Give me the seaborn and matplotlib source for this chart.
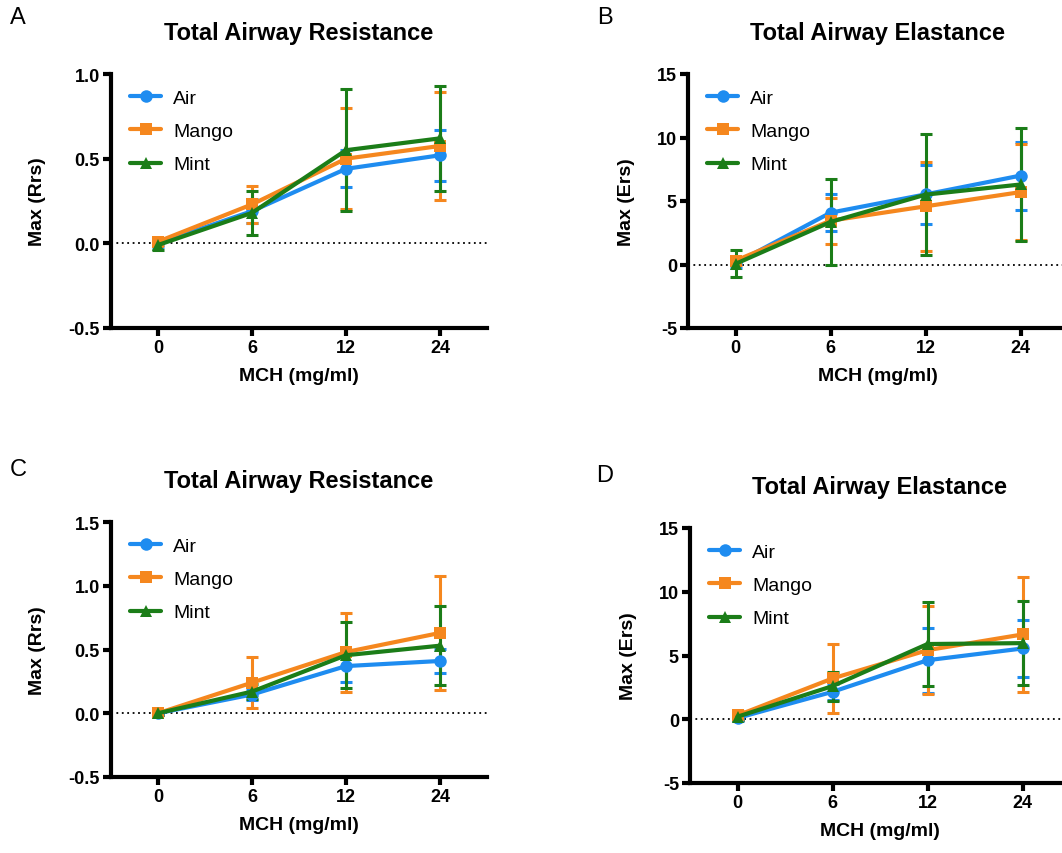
import numpy as np
import pandas as pd
import seaborn as sns
import matplotlib.pyplot as plt

# ----------- data -----------
doses = ["0", "6", "12", "24"]
groups = ["Air", "Mango", "Mint"]

# Panel A: Total Airway Resistance (mean, error)
a_air = [0.00, 0.19, 0.44, 0.52]
a_air_err = [0.02, 0.07, 0.11, 0.15]
a_mango = [0.01, 0.23, 0.50, 0.575]
a_mango_err = [0.02, 0.11, 0.30, 0.32]
a_mint = [-0.01, 0.18, 0.55, 0.62]
a_mint_err = [0.03, 0.13, 0.36, 0.31]

# Panel B: Total Airway Elastance
b_air = [0.1, 4.08, 5.52, 7.0]
b_air_err = [0.37, 1.45, 2.33, 2.67]
b_mango = [0.3, 3.45, 4.58, 5.7]
b_mango_err = [0.3, 1.8, 3.5, 3.8]
b_mint = [0.05, 3.35, 5.5, 6.3]
b_mint_err = [1.06, 3.35, 4.75, 4.45]

# Panel C: Total Airway Resistance
c_air = [0.0, 0.147, 0.37, 0.41]
c_air_err = [0.01, 0.04, 0.125, 0.095]
c_mango = [0.0, 0.24, 0.48, 0.63]
c_mango_err = [0.01, 0.20, 0.31, 0.45]
c_mint = [0.0, 0.17, 0.455, 0.53]
c_mint_err = [0.01, 0.06, 0.26, 0.31]

# Panel D: Total Airway Elastance
d_air = [0.1, 2.15, 4.63, 5.55]
d_air_err = [0.2, 0.63, 2.55, 2.2]
d_mango = [0.3, 3.2, 5.42, 6.65]
d_mango_err = [0.33, 2.7, 3.45, 4.5]
d_mint = [0.2, 2.6, 5.9, 5.97]
d_mint_err = [0.25, 1.14, 3.3, 3.3]

palette = {"Air": "#1E8CF0", "Mango": "#F5871E", "Mint": "#1B7D18"}
markers = {"Air": "o", "Mango": "s", "Mint": "^"}

sns.set_theme(style="ticks", rc={"text.color": "black", "axes.labelcolor": "black",
                                 "xtick.color": "black", "ytick.color": "black",
                                 "axes.edgecolor": "black"})
plt.rcParams["font.family"] = ["Liberation Sans", "DejaVu Sans"]


def make_df(air, mango, mint, air_e, mango_e, mint_e):
    rows = []
    for g, vals, errs in zip(groups, [air, mango, mint], [air_e, mango_e, mint_e]):
        for i, d in enumerate(doses):
            rows.append({"pos": i, "dose": d, "group": g, "value": vals[i], "err": errs[i]})
    return pd.DataFrame(rows)


def draw_panel(ax, df, title, ylabel, ylim, yticks, yfmt):
    sns.lineplot(data=df, x="pos", y="value", hue="group", style="group",
                 palette=palette, markers=markers, dashes=False,
                 linewidth=3, markersize=9, markeredgewidth=0, ax=ax, zorder=3)
    for g in groups:
        sub = df[df["group"] == g]
        ax.errorbar(sub["pos"], sub["value"], yerr=sub["err"], fmt="none",
                    ecolor=palette[g], elinewidth=2.2, capsize=4, capthick=2.2, zorder=2)
    ax.axhline(0, color="black", linestyle=(0, (1, 2)), linewidth=1.3, zorder=1)
    ax.set_xlim(-0.5, 3.5)
    ax.set_ylim(*ylim)
    ax.set_xticks(range(len(doses)))
    ax.set_xticklabels(doses, fontweight="bold", fontsize=13)
    ax.set_yticks(yticks)
    ax.set_yticklabels([yfmt.format(t) for t in yticks], fontweight="bold", fontsize=13)
    ax.set_xlabel("MCH (mg/ml)", fontweight="bold", fontsize=14, labelpad=8)
    ax.set_ylabel(ylabel, fontweight="bold", fontsize=14, labelpad=16)
    ax.set_title(title, fontweight="bold", fontsize=17, pad=25)
    sns.despine(ax=ax)
    for s in ["left", "bottom"]:
        ax.spines[s].set_linewidth(3)
    ax.tick_params(width=3, length=6, pad=2)
    ax.margins(0)
    leg = ax.legend(loc="upper left", frameon=False, fontsize=14,
                    handlelength=1.6, handletextpad=0.6, labelspacing=0.8,
                    borderaxespad=0.2, bbox_to_anchor=(0.02, 0.985))
    for h in leg.legend_handles:
        h.set_linewidth(3)


fig = plt.figure(figsize=(10.62, 8.54), dpi=100)
ax_a = fig.add_axes([111 / 1062, 1 - 329 / 854, 376 / 1062, 254 / 854])
ax_b = fig.add_axes([688 / 1062, 1 - 329 / 854, 380 / 1062, 254 / 854])
ax_c = fig.add_axes([111 / 1062, 1 - 778 / 854, 376 / 1062, 255 / 854])
ax_d = fig.add_axes([690 / 1062, 1 - 784 / 854, 380 / 1062, 255 / 854])

draw_panel(ax_a, make_df(a_air, a_mango, a_mint, a_air_err, a_mango_err, a_mint_err),
           "Total Airway Resistance", "Max (Rrs)", (-0.5, 1.0), [-0.5, 0.0, 0.5, 1.0], "{:.1f}")
draw_panel(ax_b, make_df(b_air, b_mango, b_mint, b_air_err, b_mango_err, b_mint_err),
           "Total Airway Elastance", "Max (Ers)", (-5, 15), [-5, 0, 5, 10, 15], "{:.0f}")
draw_panel(ax_c, make_df(c_air, c_mango, c_mint, c_air_err, c_mango_err, c_mint_err),
           "Total Airway Resistance", "Max (Rrs)", (-0.5, 1.5), [-0.5, 0.0, 0.5, 1.0, 1.5], "{:.1f}")
draw_panel(ax_d, make_df(d_air, d_mango, d_mint, d_air_err, d_mango_err, d_mint_err),
           "Total Airway Elastance", "Max (Ers)", (-5, 15), [-5, 0, 5, 10, 15], "{:.0f}")

for lab, x, y in [("A", 18, 18), ("B", 605, 18), ("C", 18, 470), ("D", 605, 476)]:
    fig.text(x / 1062, 1 - y / 854, lab, fontsize=17, ha="center", va="center")

fig.savefig("out.png", dpi=100)
